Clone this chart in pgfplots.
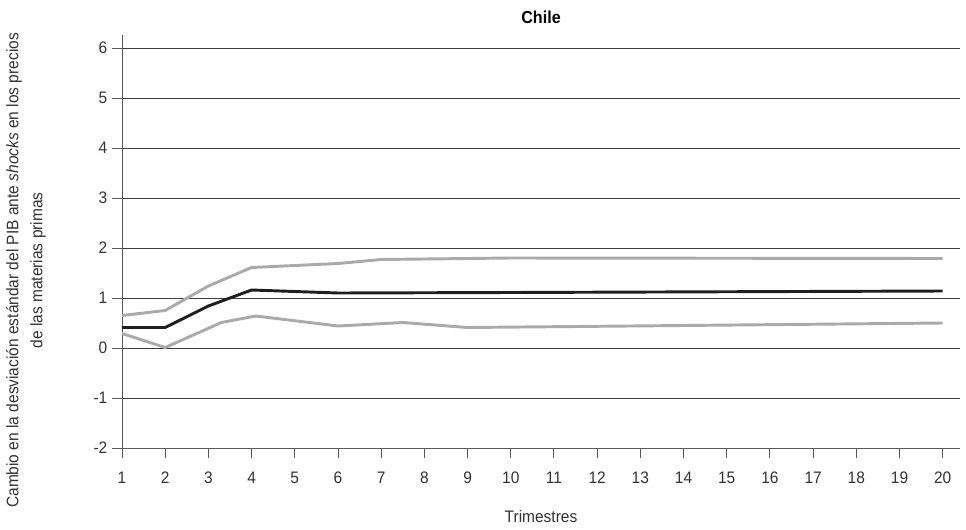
\documentclass[border=0pt]{standalone}
\usepackage{fontspec}
\setmainfont{Liberation Sans}[FakeStretch=0.93]
\usepackage{pgfplots}
\pgfplotsset{compat=1.18}
\definecolor{bandgray}{RGB}{170,170,170}
\definecolor{gridgray}{RGB}{60,60,60}
\begin{document}
\begin{tikzpicture}
\begin{axis}[
  scale only axis,
  width=628.5pt, height=309.75pt,
  xmin=1, xmax=20.4, ymin=-2, ymax=6.26,
  axis x line*=bottom, axis y line*=left,
  axis line style={color=black!65, line width=0.7pt},
  xtick={1,...,20}, ytick={-2,...,6},
  ymajorgrids,
  grid style={color=gridgray, line width=0.7pt},
  tick align=outside,
  major tick length=7.5pt,
  tick style={color=black!65, line width=0.7pt},
  /pgf/number format/assume math mode=true,
  tick label style={font=\fontsize{12.5}{14}\selectfont, text=black!80},
  xticklabel style={yshift=-7pt},
  title={\textbf{Chile}},
  title style={at={(axis description cs:0.5,1)}, anchor=center, yshift=7.5pt, font=\fontsize{13}{15}\selectfont},
  xlabel={Trimestres},
  xlabel style={at={(axis description cs:0.5,0)}, anchor=center, yshift=-51.75pt, font=\fontsize{12.5}{14}\selectfont, text=black!80},
  ylabel={Cambio en la desviación estándar del PIB ante \emph{shocks} en los precios\\de las materias primas},
  ylabel style={at={(axis description cs:-0.1146,0.43)}, anchor=center, align=center, font=\fontsize{12.5}{18}\selectfont, text=black!80},
  clip=false,
]
\addplot[bandgray, line width=2.2pt] coordinates {
  (1,0.65) (2,0.75) (3,1.24) (4,1.61) (6,1.69) (7,1.77) (8,1.78) (10,1.80) (15,1.795) (20,1.79)
};
\addplot[bandgray, line width=2.2pt] coordinates {
  (1,0.29) (2,0.01) (3.3,0.51) (4.1,0.64) (6,0.44) (7.5,0.51) (9,0.41) (14,0.45) (20,0.50)
};
\addplot[black!88, line width=2.2pt] coordinates {
  (1,0.41) (2,0.41) (3,0.84) (4,1.16) (6,1.10) (8,1.105) (10,1.11) (15,1.125) (20,1.14)
};
\end{axis}
\pgfresetboundingbox
\path (current axis.south west) ++(-91.5pt,-60.75pt) rectangle ++(724.5pt,396.75pt);
\end{tikzpicture}
\end{document}
